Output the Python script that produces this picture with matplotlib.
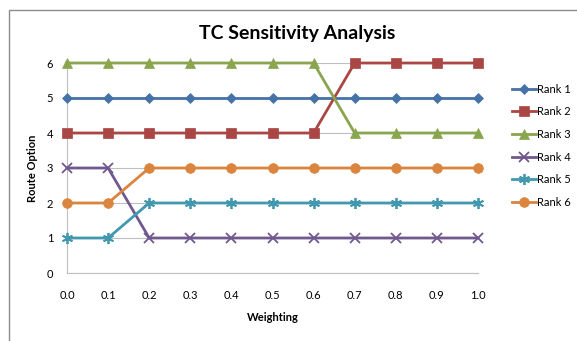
import numpy as np
import matplotlib.pyplot as plt
from matplotlib.patches import Rectangle

plt.rcParams['font.family'] = ['Lato', 'DejaVu Sans']

# ---------------- DATA ----------------
weighting = [0.0, 0.1, 0.2, 0.3, 0.4, 0.5, 0.6, 0.7, 0.8, 0.9, 1.0]
rank1 = [5, 5, 5, 5, 5, 5, 5, 5, 5, 5, 5]
rank2 = [4, 4, 4, 4, 4, 4, 4, 6, 6, 6, 6]
rank3 = [6, 6, 6, 6, 6, 6, 6, 4, 4, 4, 4]
rank4 = [3, 3, 1, 1, 1, 1, 1, 1, 1, 1, 1]
rank5 = [1, 1, 2, 2, 2, 2, 2, 2, 2, 2, 2]
rank6 = [2, 2, 3, 3, 3, 3, 3, 3, 3, 3, 3]
labels = ["Rank 1", "Rank 2", "Rank 3", "Rank 4", "Rank 5", "Rank 6"]

series = [rank1, rank2, rank3, rank4, rank5, rank6]
colors = ["#4572A7", "#AA4643", "#89A54E", "#71588F", "#4198AF", "#DB843D"]
markers = ["D", "s", "^", "x", (6, 2, 0), "o"]
msizes = [5, 7, 7, 7, 8, 7]

# ------------- PLOT ----------------
fig = plt.figure(figsize=(5.77, 3.41), dpi=100)
# chart frame, open at the right and bottom edges
fig.patches.append(Rectangle((9 / 577, -0.1), 1.0, 1.1 - 10 / 341, transform=fig.transFigure,
                             fill=False, edgecolor="#8c8c8c", linewidth=1.0))
ax = fig.add_axes([67 / 577, 1 - 273 / 341, (478 - 67) / 577, (273 - 63) / 341])

for ys, lab, c, m, ms in zip(series, labels, colors, markers, msizes):
    ax.plot(weighting, ys, color=c, marker=m, markersize=ms, linewidth=2,
            markeredgewidth=1.3 if m in ("x", (6, 2, 0)) else 0.5,
            label=lab, clip_on=False, zorder=3)

ax.set_xlim(0, 1)
ax.set_ylim(0, 6)
ax.set_xticks(weighting)
ax.set_xticklabels([f"{w:.1f}" for w in weighting])
ax.set_yticks(range(7))
ax.yaxis.grid(True, color="#bfbfbf", linewidth=0.8, zorder=0)
ax.set_axisbelow(True)
for s in ["top", "right"]:
    ax.spines[s].set_visible(False)
for s in ["left", "bottom"]:
    ax.spines[s].set_color("#bfbfbf")
ax.tick_params(length=0, labelsize=8, pad=10)
ax.tick_params(axis="x", pad=12)

ax.set_xlabel("Weighting", fontsize=8, fontweight="bold", labelpad=8)
ax.set_ylabel("Route Option", fontsize=8, fontweight="bold", labelpad=6)
fig.text(0.515, 1 - 34 / 341, "TC Sensitivity Analysis", ha="center", va="center",
         fontsize=14, fontweight="bold")

ax.legend(loc="upper left", bbox_to_anchor=(506 / 577, 1 - 78 / 341), bbox_transform=fig.transFigure,
          frameon=False, fontsize=8, handlelength=2.2, labelspacing=1.05, handletextpad=0.1,
          borderpad=0)

fig.savefig("out.png", dpi=100)
